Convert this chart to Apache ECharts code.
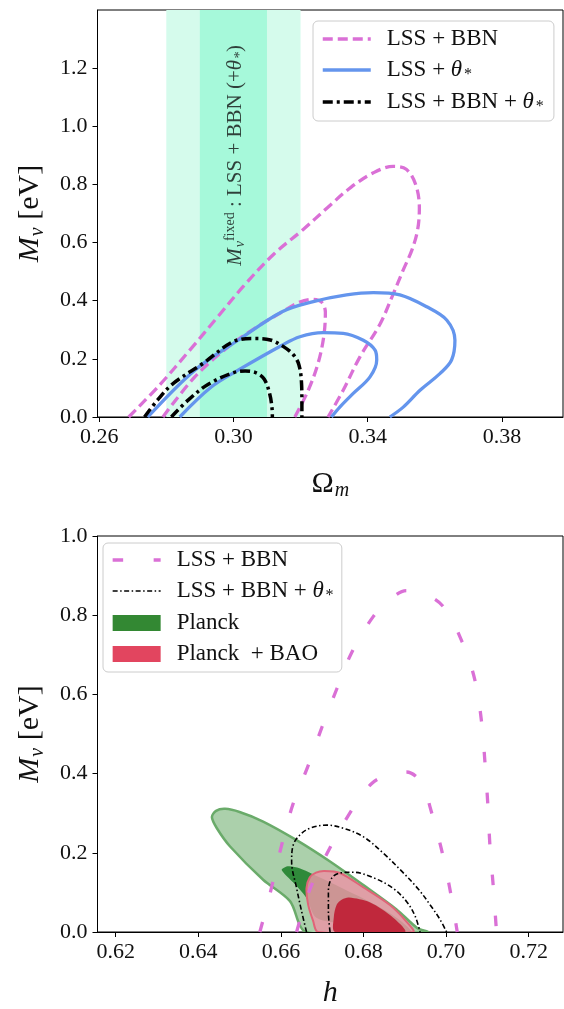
<!DOCTYPE html>
<html><head><meta charset="utf-8">
<script src="https://cdn.jsdelivr.net/npm/echarts@6/dist/echarts.min.js"></script>
<style>html,body{margin:0;padding:0;background:#fff}#c{width:564px;height:1009px}</style>
</head><body><div id="c"></div>
<script>
// ---------- data ----------
const topXTicks = [0.26, 0.30, 0.34, 0.38];
const topYTicks = [0.0, 0.2, 0.4, 0.6, 0.8, 1.0, 1.2];
const botXTicks = [0.62, 0.64, 0.66, 0.68, 0.70, 0.72];
const botYTicks = [0.0, 0.2, 0.4, 0.6, 0.8, 1.0];

// fixed-M_nu bands (Omega_m ranges)
const bandOuter = [0.28, 0.32];
const bandInner = [0.29, 0.31];

// top panel: Omega_m vs M_nu
const topLssBbnOuter = [[0.2688,0],[0.278,0.11],[0.287,0.23],[0.295,0.34],[0.303,0.45],[0.312,0.56],[0.3208,0.645],[0.328,0.72],[0.335,0.79],[0.3417,0.84],[0.3476,0.862],[0.3515,0.852],[0.3543,0.80],[0.3554,0.72],[0.3549,0.645],[0.3532,0.575],[0.3506,0.506],[0.3475,0.42],[0.3437,0.32],[0.3377,0.207],[0.3327,0.092],[0.3282,0]];
const topLssBbnInner = [[0.279,0],[0.2885,0.138],[0.2984,0.241],[0.307,0.31],[0.3143,0.36],[0.3195,0.394],[0.3235,0.405],[0.3262,0.396],[0.3274,0.36],[0.3269,0.276],[0.3252,0.184],[0.3223,0.092],[0.3183,0]];
const topLssThOuter = [[0.2745,0],[0.2885,0.161],[0.3014,0.264],[0.3145,0.362],[0.3238,0.397],[0.3337,0.42],[0.3417,0.428],[0.3496,0.42],[0.3576,0.379],[0.3636,0.333],[0.366,0.264],[0.365,0.196],[0.3616,0.15],[0.3556,0.092],[0.3506,0.034],[0.3466,0]];
const topLssThInner = [[0.284,0],[0.2934,0.103],[0.3014,0.161],[0.3145,0.247],[0.3198,0.276],[0.3267,0.29],[0.3327,0.288],[0.3387,0.264],[0.3422,0.23],[0.3427,0.196],[0.3407,0.138],[0.3357,0.081],[0.3317,0.034],[0.3292,0]];
const topAllOuter = [[0.2735,0],[0.2775,0.06],[0.282,0.115],[0.2909,0.184],[0.2999,0.259],[0.3059,0.27],[0.311,0.265],[0.3148,0.243],[0.3178,0.215],[0.3195,0.18],[0.3203,0.115],[0.3204,0.05],[0.3204,0]];
const topAllInner = [[0.2815,0],[0.2865,0.058],[0.2924,0.112],[0.2999,0.152],[0.3035,0.158],[0.3068,0.152],[0.3092,0.13],[0.3108,0.08],[0.3115,0.03],[0.3116,0]];

// bottom panel: h vs M_nu
const botLssBbnOuter = [[0.6549,0],[0.6573,0.094],[0.6602,0.22],[0.663,0.325],[0.6666,0.42],[0.67,0.519],[0.6735,0.613],[0.6773,0.709],[0.6824,0.797],[0.6865,0.84],[0.6904,0.862],[0.6945,0.855],[0.6993,0.822],[0.7039,0.732],[0.707,0.635],[0.7086,0.529],[0.7094,0.429],[0.7101,0.322],[0.7106,0.22],[0.7114,0.117],[0.7122,0]];
const botLssBbnInner = [[0.6638,0],[0.667,0.107],[0.6711,0.197],[0.6759,0.287],[0.682,0.375],[0.687,0.4],[0.6904,0.404],[0.6932,0.388],[0.695,0.355],[0.6961,0.316],[0.6987,0.216],[0.7008,0.115],[0.7027,0]];
const botAllOuter = [[0.6662,0],[0.665,0.053],[0.6638,0.111],[0.6626,0.178],[0.663,0.22],[0.6646,0.245],[0.667,0.262],[0.6711,0.27],[0.6751,0.262],[0.6799,0.241],[0.6848,0.199],[0.6893,0.153],[0.6933,0.108],[0.6961,0.069],[0.6985,0.032],[0.7001,0]];
const botAllInner = [[0.6719,0],[0.6715,0.053],[0.6715,0.103],[0.6723,0.136],[0.6743,0.149],[0.6775,0.151],[0.6824,0.137],[0.6872,0.11],[0.6905,0.076],[0.6925,0.04],[0.6937,0]];
const planck2s = [[0.6662,0],[0.6622,0.078],[0.6557,0.132],[0.6477,0.216],[0.6445,0.262],[0.6433,0.29],[0.6443,0.306],[0.6465,0.311],[0.65,0.303],[0.6557,0.279],[0.6638,0.232],[0.6719,0.178],[0.6799,0.119],[0.688,0.057],[0.6929,0.011],[0.6955,0]];
const planck1s = [[0.6602,0.158],[0.6618,0.166],[0.6645,0.161],[0.6675,0.147],[0.675,0.11],[0.683,0.068],[0.689,0.028],[0.6915,0],[0.6845,0],[0.676,0.02],[0.6686,0.036],[0.6662,0.086],[0.663,0.125],[0.6608,0.148]];
const bao2s = [[0.669,0],[0.6678,0.028],[0.6666,0.069],[0.6662,0.111],[0.667,0.138],[0.6685,0.15],[0.6705,0.154],[0.6743,0.149],[0.6799,0.113],[0.6864,0.068],[0.6905,0.025],[0.692,0]];
const bao1s = [[0.6731,0],[0.6728,0.036],[0.6735,0.069],[0.6748,0.082],[0.6765,0.087],[0.6815,0.075],[0.6872,0.036],[0.69,0]];

// ---------- styling ----------
const FONT = '"Liberation Serif", "DejaVu Serif", serif';
const PINK = '#da70d6', BLUE = '#6495ed';

function richSet(fs) {
  return {
    n: {fontFamily: FONT, fontSize: fs, color: '#111'},
    it: {fontFamily: FONT, fontSize: fs, fontStyle: 'italic', color: '#111'},
    sub: {fontFamily: FONT, fontSize: Math.round(fs*0.68), fontStyle: 'italic', color: '#111', padding: [Math.round(fs*0.45),0,0,1]},
    sup: {fontFamily: FONT, fontSize: Math.round(fs*0.68), color: '#111', padding: [0,0,Math.round(fs*0.5),0]},
    gap: {width: 11}
  };
}

function xAx(gi, min, max, ticks, name, gap) {
  return {type: 'value', gridIndex: gi, min: min, max: max, name: name, nameLocation: 'middle', nameGap: gap,
    nameTextStyle: {fontFamily: FONT, fontSize: 30, color: '#111', rich: richSet(30)},
    axisLine: {onZero: false, lineStyle: {color: '#000', width: 1}},
    axisTick: {show: true, customValues: ticks, length: 5, lineStyle: {color: '#000', width: 1}},
    axisLabel: {customValues: ticks, formatter: v => (+v).toFixed(2), margin: 9, fontFamily: FONT, fontSize: 22, color: '#111'},
    splitLine: {show: false}};
}
function yAx(gi, min, max, ticks, name, gap) {
  return {type: 'value', gridIndex: gi, min: min, max: max, name: name, nameLocation: 'middle', nameGap: gap,
    nameTextStyle: {fontFamily: FONT, fontSize: 30, color: '#111', rich: richSet(30)},
    axisLine: {onZero: false, lineStyle: {color: '#000', width: 1}},
    axisTick: {show: true, customValues: ticks, length: 5, lineStyle: {color: '#000', width: 1}},
    axisLabel: {customValues: ticks, formatter: v => (+v).toFixed(1), margin: 10, fontFamily: FONT, fontSize: 22, color: '#111'},
    splitLine: {show: false}};
}

function lineSeries(name, gi, data, color, width, dash, z) {
  return {type: 'line', name: name, xAxisIndex: gi, yAxisIndex: gi, data: data, smooth: 0.35,
    symbol: 'none', showSymbol: false, color: color, z: z || 5,
    lineStyle: {color: color, width: width, type: dash, cap: 'butt', join: 'round'}, animation: false};
}
function polySeries(name, gi, pts, fill, stroke, lw, z) {
  return {type: 'custom', name: name, xAxisIndex: gi, yAxisIndex: gi, coordinateSystem: 'cartesian2d',
    data: [[pts[0][0], pts[0][1]]], clip: true, z: z || 3, color: fill, itemStyle: {color: fill}, animation: false,
    renderItem: function (params, api) {
      const p = pts.map(q => api.coord(q));
      return {type: 'polygon', shape: {points: p, smooth: 0.3}, style: {fill: fill, stroke: stroke || null, lineWidth: lw || 0}};
    }};
}
function bandSeries(gi, band, color, ymax) {
  return {type: 'custom', name: 'band', xAxisIndex: gi, yAxisIndex: gi, coordinateSystem: 'cartesian2d',
    data: [[band[0], 0]], clip: true, z: 1, animation: false, silent: true,
    renderItem: function (params, api) {
      const a = api.coord([band[0], ymax]);
      const b = api.coord([band[1], 0]);
      return {type: 'rect', shape: {x: a[0], y: a[1], width: b[0]-a[0], height: b[1]-a[1]}, style: {fill: color}};
    }};
}

const labels = {
  't1': 'LSS + BBN',
  't2': 'LSS + {it|θ}{sub|*}',
  't3': 'LSS + BBN + {it|θ}{sub|*}',
  'b1': 'LSS + BBN',
  'b2': 'LSS + BBN + {it|θ}{sub|*}',
  'b3': 'Planck',
  'b4': 'Planck  + BAO'
};

const legendBase = {
  orient: 'vertical', itemWidth: 48, itemHeight: 16, itemGap: 7,
  backgroundColor: 'rgba(255,255,255,0.8)', borderColor: '#cccccc', borderWidth: 1, borderRadius: 5,
  textStyle: {fontFamily: FONT, fontSize: 23, color: '#111', lineHeight: 24, rich: richSet(23)},
  formatter: name => '{gap|}' + labels[name], selectedMode: false
};
const noSym = {opacity: 0, borderWidth: 0};

const chart = echarts.init(document.getElementById('c'), null, {renderer: 'canvas'});
chart.setOption({
  animation: false,
  backgroundColor: '#fff',
  grid: [
    {left: 97.5, top: 10, width: 465.5, height: 407, show: true, borderColor: '#000', borderWidth: 1, backgroundColor: 'transparent'},
    {left: 97.5, top: 536, width: 465.5, height: 398.5, show: true, borderColor: '#000', borderWidth: 1, backgroundColor: 'transparent'}
  ],
  xAxis: [
    xAx(0, 0.2595, 0.3982, topXTicks, '{n|Ω}{sub|m}', 50),
    xAx(1, 0.6156, 0.7283, botXTicks, '{it|h}', 46)
  ],
  yAxis: [
    yAx(0, 0, 1.4, topYTicks, '{it|M}{sub|ν}{n| [eV]}', 50),
    yAx(1, 0, 1.0, botYTicks, '{it|M}{sub|ν}{n| [eV]}', 50)
  ],
  legend: [
    Object.assign({}, legendBase, {left: 313, top: 21, padding: [6, 11, 6, 8], data: [
      {name: 't1', itemStyle: noSym, lineStyle: {width: 3.3}},
      {name: 't2', itemStyle: noSym, lineStyle: {width: 3.3}},
      {name: 't3', itemStyle: noSym, lineStyle: {width: 3.5}}]}),
    Object.assign({}, legendBase, {left: 103, top: 543, padding: [5, 9, 6, 8], data: [
      {name: 'b1', itemStyle: noSym, lineStyle: {width: 3.3}},
      {name: 'b2', itemStyle: noSym, lineStyle: {width: 1.6}},
      {name: 'b3', icon: 'rect', itemStyle: {color: '#338833'}},
      {name: 'b4', icon: 'rect', itemStyle: {color: '#e2455f'}}]})
  ],
  series: [
    bandSeries(0, bandOuter, '#d5fbec', 1.4),
    bandSeries(0, bandInner, '#a6f9da', 1.4),
    {type: 'scatter', xAxisIndex: 0, yAxisIndex: 0, data: [[0.3006, 0.90]], symbolSize: 0, silent: true, z: 4,
      label: {show: true, position: 'inside', rotate: 90, color: '#111',
        formatter: '{it|M}{sub|ν}{sup|fixed}{n| : LSS + BBN (+}{it|θ}{sub|*}{n|)}',
        rich: richSet(21)}},
    lineSeries('t1', 0, topLssBbnOuter, PINK, 3.3, [10, 5]),
    lineSeries('t1', 0, topLssBbnInner, PINK, 3.3, [10, 5]),
    lineSeries('t2', 0, topLssThOuter, BLUE, 3.3, 'solid'),
    lineSeries('t2', 0, topLssThInner, BLUE, 3.3, 'solid'),
    lineSeries('t3', 0, topAllOuter, '#000', 3.5, [10, 4, 3, 4], 6),
    lineSeries('t3', 0, topAllInner, '#000', 3.5, [10, 4, 3, 4], 6),

    polySeries('b3', 1, planck2s, '#abd0ab', '#6aab6a', 2.5, 2),
    polySeries('b3', 1, planck1s, '#2f8a3a', null, 0, 3),
    polySeries('b4', 1, bao2s, 'rgba(232,150,165,0.85)', '#e06478', 2, 4),
    polySeries('b4', 1, bao1s, '#c0283c', null, 0, 4),
    lineSeries('b1', 1, botLssBbnOuter, PINK, 3.3, [10.5, 30.5]),
    lineSeries('b1', 1, botLssBbnInner, PINK, 3.3, [10.5, 30.5]),
    lineSeries('b2', 1, botAllOuter, '#000', 1.6, [5, 2.5, 1.5, 2.5], 6),
    lineSeries('b2', 1, botAllInner, '#000', 1.6, [5, 2.5, 1.5, 2.5], 6)
  ]
});
</script></body></html>
